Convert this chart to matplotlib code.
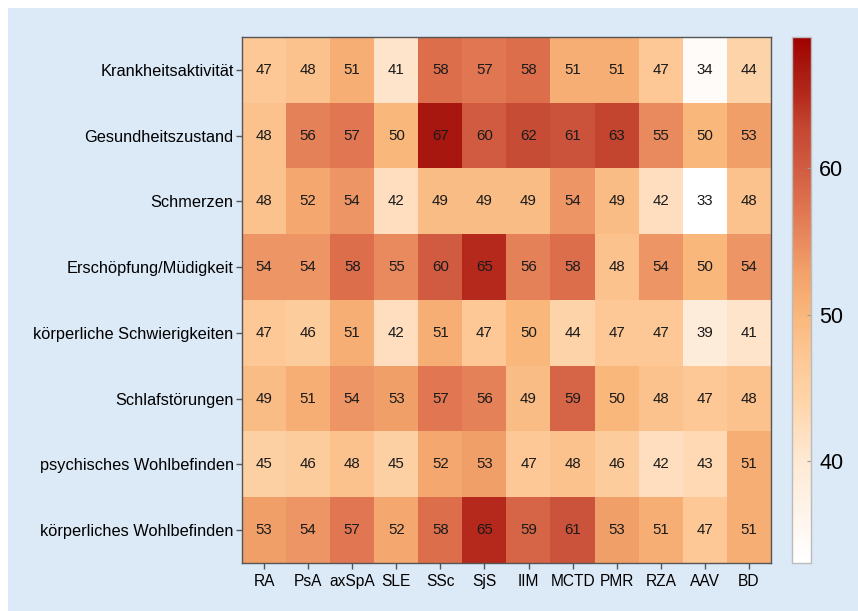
import numpy as np
import matplotlib
matplotlib.use("Agg")
import matplotlib.pyplot as plt
from matplotlib.colors import LinearSegmentedColormap
from matplotlib.patches import Rectangle

plt.rcParams['font.family'] = ['Liberation Sans', 'DejaVu Sans']

columns = ["RA", "PsA", "axSpA", "SLE", "SSc", "SjS", "IIM", "MCTD", "PMR", "RZA", "AAV", "BD"]
rows = ["Krankheitsaktivität", "Gesundheitszustand", "Schmerzen", "Erschöpfung/Müdigkeit",
        "körperliche Schwierigkeiten", "Schlafstörungen", "psychisches Wohlbefinden",
        "körperliches Wohlbefinden"]

krankheitsaktivitaet = [47, 48, 51, 41, 58, 57, 58, 51, 51, 47, 34, 44]
gesundheitszustand = [48, 56, 57, 50, 67, 60, 62, 61, 63, 55, 50, 53]
schmerzen = [48, 52, 54, 42, 49, 49, 49, 54, 49, 42, 33, 48]
erschoepfung = [54, 54, 58, 55, 60, 65, 56, 58, 48, 54, 50, 54]
koerperl_schwierigkeiten = [47, 46, 51, 42, 51, 47, 50, 44, 47, 47, 39, 41]
schlafstoerungen = [49, 51, 54, 53, 57, 56, 49, 59, 50, 48, 47, 48]
psych_wohlbefinden = [45, 46, 48, 45, 52, 53, 47, 48, 46, 42, 43, 51]
koerperl_wohlbefinden = [53, 54, 57, 52, 58, 65, 59, 61, 53, 51, 47, 51]

data = np.array([krankheitsaktivitaet, gesundheitszustand, schmerzen, erschoepfung,
                 koerperl_schwierigkeiten, schlafstoerungen, psych_wohlbefinden,
                 koerperl_wohlbefinden])

vmin, vmax = 33, 69
anchors = [(33, "#ffffff"), (40, "#fee9d4"), (44, "#fed5aa"), (47, "#fdc896"),
           (50, "#f9b77c"), (53, "#f2a06a"), (55, "#e98b5f"), (58, "#dc6e4c"),
           (60, "#d15c42"), (63, "#c44530"), (65, "#b52a1d"), (67, "#a81810"),
           (69, "#a00000")]
cmap = LinearSegmentedColormap.from_list(
    "custom", [((v - vmin) / (vmax - vmin), c) for v, c in anchors])

fig = plt.figure(figsize=(8.58, 6.11), dpi=100)
fig.patch.set_facecolor("white")
fig.patches.append(Rectangle((8 / 858, 0), 1 - 8 / 858, 1 - 8 / 611,
                             transform=fig.transFigure, facecolor="#dce9f7",
                             edgecolor="none", zorder=-10))

ax = fig.add_axes([242 / 858, 48 / 611, (771 - 242) / 858, (563 - 37) / 611])
im = ax.imshow(data, cmap=cmap, vmin=vmin, vmax=vmax, aspect="auto")

for i in range(data.shape[0]):
    for j in range(data.shape[1]):
        ax.text(j, i, str(data[i, j]), ha="center", va="center", fontsize=10.8, color="#1a1a1a")

ax.set_xticks(range(len(columns)))
ax.set_xticklabels(columns, fontsize=11.2)
ax.set_yticks(range(len(rows)))
ax.set_yticklabels(rows, fontsize=11.8)
ax.tick_params(axis="both", length=4, width=1, color="#555555", pad=2)
ax.tick_params(axis="x", pad=4)
for s in ax.spines.values():
    s.set_color("#555555")
    s.set_linewidth(1)

cax = fig.add_axes([792 / 858, 48 / 611, 19 / 858, (563 - 37) / 611])
cb = fig.colorbar(im, cax=cax)
cb.set_ticks([40, 50, 60])
cb.ax.tick_params(labelsize=15.5, length=3, color="#999999", direction="in", pad=6)
cb.outline.set_edgecolor("#bbbbbb")
cb.outline.set_linewidth(1)

fig.savefig("out.png", dpi=100)
